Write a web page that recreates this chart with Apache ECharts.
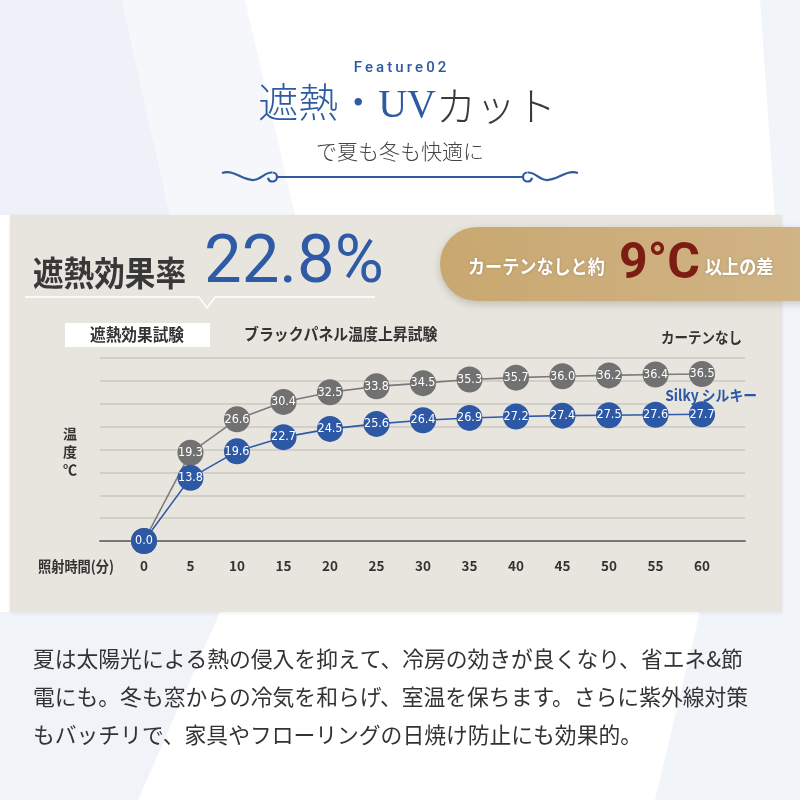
<!DOCTYPE html>
<html>
<head>
<meta charset="utf-8">
<script src="https://cdn.jsdelivr.net/npm/echarts@6/dist/echarts.min.js"></script>
<style>
html,body{margin:0;padding:0;background:#fff}
#chart-panel{width:800px;height:800px}
</style>
</head>
<body>
<div id="chart-panel"></div>
<script>
// 照射時間(分)
const times = [0, 5, 10, 15, 20, 25, 30, 35, 40, 45, 50, 55, 60]
// カーテンなし
const noCurtain = [0.0, 19.3, 26.6, 30.4, 32.5, 33.8, 34.5, 35.3, 35.7, 36.0, 36.2, 36.4, 36.5]
// Silky シルキー
const silky = [0.0, 13.8, 19.6, 22.7, 24.5, 25.6, 26.4, 26.9, 27.2, 27.4, 27.5, 27.6, 27.7]
const tickLabels = ['0', '5', '10', '15', '20', '25', '30', '35', '40', '45', '50', '55', '60']

! function(){
    const JP = '"Noto Sans CJK JP", "Noto Sans", sans-serif'
    const NUM = 'Roboto, "Noto Sans", sans-serif'
    const NARROW = '"Liberation Sans Narrow", "DejaVu Sans Condensed", Roboto, sans-serif'
    const BLUE = '#2d58a6'
    const GRAY = '#717171'
    const PANEL = '#e8e5de'
    const ORN = '#2e5aa0'

    /* 値の配列を [x, y] の組にする. */
    function pairs(values){
        return times.map((t, i) => [t, values[i]])
    }

    /* テキスト要素の簡易生成. */
    function txt(text, x, y, opt){
        opt = opt || {}
        return {
            type: 'text', x: x, y: y, z: opt.z || 5,
            scaleX: opt.scaleX || 1,
            style: {
                text: text,
                fill: opt.fill || '#333',
                font: (opt.weight || 'normal') + ' ' + opt.size + 'px ' + (opt.family || JP),
                textAlign: opt.align || 'left',
                textVerticalAlign: 'middle',
                lineHeight: opt.lineHeight,
                textShadowBlur: opt.shadow ? 3 : 0,
                textShadowColor: 'rgba(0,0,0,0.2)'
            }
        }
    }

    /* 飾り罫の片側. dir=1 は左, dir=-1 は右. */
    function flourish(dir){
        let fx = (x) => dir > 0 ? x : 800 - x
        let st = { stroke: ORN, lineWidth: 2.2, fill: null }
        return [
            { type: 'bezierCurve', z: 5, shape: { x1: fx(222), y1: 173, cpx1: fx(235), cpy1: 169, cpx2: fx(242), cpy2: 181, x2: fx(254), y2: 180 }, style: st },
            { type: 'bezierCurve', z: 5, shape: { x1: fx(254), y1: 180, cpx1: fx(262), cpy1: 179, cpx2: fx(265), cpy2: 172, x2: fx(272), y2: 172.5 }, style: st },
            { type: 'arc', z: 5, shape: { cx: fx(272.5), cy: 177, r: 4.5,
                startAngle: -Math.PI / 2,
                endAngle: dir > 0 ? Math.PI * 0.95 : Math.PI * 0.05,
                clockwise: dir > 0 }, style: st }
        ]
    }

    let graphics = [
        /* 背景の淡い模様. */
        { type: 'polygon', z: -20, shape: { points: [[0,0],[122,0],[170,215],[0,215]] }, style: { fill: '#eef2f8' } },
        { type: 'polygon', z: -20, shape: { points: [[122,0],[245,0],[295,215],[170,215]] }, style: { fill: '#f5f7fb' } },
        { type: 'polygon', z: -20, shape: { points: [[0,612],[220,612],[138,800],[0,800]] }, style: { fill: '#f0f3f8' } },
        { type: 'polygon', z: -20, shape: { points: [[760,0],[800,0],[800,800],[655,800],[700,612],[782,612],[775,215]] }, style: { fill: '#f1f4f9' } },

        /* 見出し. */
        txt('F\u2009e\u2009a\u2009t\u2009u\u2009r\u2009e\u20090\u20092', 400, 68, { size: 15, fill: ORN, family: NUM, align: 'center', weight: '500' }),
        txt('遮熱・UV', 436, 106, { size: 40, fill: ORN, family: '"Liberation Serif", ' + JP, align: 'right', weight: '300' }),
        txt('カット', 436, 106, { size: 40, fill: '#3a3a3a', family: JP, align: 'left', weight: '300' }),
        txt('で夏も冬も快適に', 400, 151, { size: 21, fill: '#444', align: 'center', weight: '300' }),

        /* 飾り罫. */
        ...flourish(1),
        ...flourish(-1),
        { type: 'line', z: 5, shape: { x1: 277, y1: 177, x2: 523, y2: 177 }, style: { stroke: ORN, lineWidth: 1.8 } },

        /* パネル. */
        { type: 'rect', z: -10, shape: { x: 10, y: 215, width: 772, height: 397 },
          style: { fill: PANEL, shadowBlur: 4, shadowColor: 'rgba(0,0,0,0.08)', shadowOffsetY: 1 } },

        txt('遮熱効果率', 33, 273, { size: 34, weight: 'bold', fill: '#383838', scaleX: 0.9 }),
        txt('22.8%', 204, 265, { size: 67, family: NUM, fill: '#2f5aa6' }),
        { type: 'polyline', z: 5, shape: { points: [[25,297],[199,297],[207,308],[215,297],[375,297]] },
          style: { stroke: '#fff', lineWidth: 1.5, fill: null } },

        { type: 'rect', z: 4, shape: { x: 440, y: 227, width: 380, height: 74, r: [37, 0, 0, 37] },
          style: {
              fill: {
                  type: 'linear', x: 0, y: 0, x2: 1, y2: 0,
                  colorStops: [
                      { offset: 0, color: '#c9a870' },
                      { offset: 1, color: '#d1b487' }
                  ]
              },
              shadowBlur: 8, shadowColor: 'rgba(0,0,0,0.18)', shadowOffsetY: 3
          } },
        txt('カーテンなしと約', 468, 267, { size: 19, weight: 'bold', fill: '#fff', scaleX: 0.9, shadow: true }),
        txt('9°C', 619, 265, { size: 50, weight: 'bold', family: NUM, fill: '#7c1c13' }),
        txt('以上の差', 705, 267, { size: 19, weight: 'bold', fill: '#fff', scaleX: 0.9, shadow: true }),

        /* グラフ周りのラベル. */
        { type: 'rect', z: 4, shape: { x: 65, y: 323, width: 145, height: 24 }, style: { fill: '#fff' } },
        txt('遮熱効果試験', 137, 335, { size: 16.5, weight: 'bold', scaleX: 0.95, align: 'center' }),
        txt('ブラックパネル温度上昇試験', 244, 334, { size: 16, weight: 'bold', scaleX: 0.93 }),
        txt('カーテンなし', 742, 337, { size: 15, weight: 'bold', scaleX: 0.9, align: 'right' }),
        { type: 'rect', z: 1, shape: { x: 652, y: 400, width: 110, height: 8 }, style: { fill: PANEL } },
        txt('Silky シルキー', 757, 395, { size: 15, weight: 'bold', fill: BLUE, scaleX: 0.92, align: 'right' }),
        txt('温\n度\n℃', 70, 452, { size: 14, weight: 'bold', align: 'center', lineHeight: 18 }),
        txt('照射時間(分)', 76, 566, { size: 15, weight: 'bold', scaleX: 0.88, align: 'center' }),

        /* 本文. */
        txt('夏は太陽光による熱の侵入を抑えて、冷房の効きが良くなり、省エネ&節', 33, 659, { size: 22, fill: '#333', scaleX: 0.99 }),
        txt('電にも。冬も窓からの冷気を和らげ、室温を保ちます。さらに紫外線対策', 33, 697, { size: 22, fill: '#333', scaleX: 0.99 }),
        txt('もバッチリで、家具やフローリングの日焼け防止にも効果的。', 33, 735, { size: 22, fill: '#333', scaleX: 0.99 })
    ]

    function seriesOf(name, values, color, lineColor, z){
        return {
            name: name,
            type: 'line',
            z: z,
            data: pairs(values),
            symbol: 'circle',
            symbolSize: 26,
            showAllSymbol: true,
            animation: false,
            itemStyle: { color: color },
            lineStyle: { color: lineColor, width: 1.6 },
            label: {
                show: true,
                position: 'inside',
                color: '#fff',
                fontSize: 12.5,
                fontFamily: NARROW,
                formatter: (p) => p.value[1].toFixed(1)
            },
            emphasis: { disabled: true }
        }
    }

    let myChart = echarts.init(document.getElementById('chart-panel'))
    myChart.setOption({
        backgroundColor: '#ffffff',
        animation: false,
        grid: { left: 100, right: 55, top: 358, bottom: 259 },
        xAxis: {
            type: 'value',
            min: -4.73,
            max: 64.62,
            splitLine: { show: false },
            axisTick: { show: false },
            axisLine: { show: true, lineStyle: { color: '#777', width: 2 } },
            axisLabel: {
                customValues: times,
                formatter: (v) => tickLabels[times.indexOf(v)] || '',
                margin: 18,
                color: '#333',
                fontWeight: 'bold',
                fontSize: 13.5,
                fontFamily: JP
            }
        },
        yAxis: {
            type: 'value',
            min: 0,
            max: 40,
            interval: 5,
            axisLine: { show: false },
            axisTick: { show: false },
            axisLabel: { show: false },
            splitLine: { lineStyle: { color: '#cbc7bf', width: 1.5 } }
        },
        series: [
            seriesOf('カーテンなし', noCurtain, GRAY, '#7a7a7a', 2),
            seriesOf('Silky シルキー', silky, BLUE, '#2f5aa8', 3)
        ],
        graphic: { elements: graphics }
    })
}()
</script>
</body>
</html>
